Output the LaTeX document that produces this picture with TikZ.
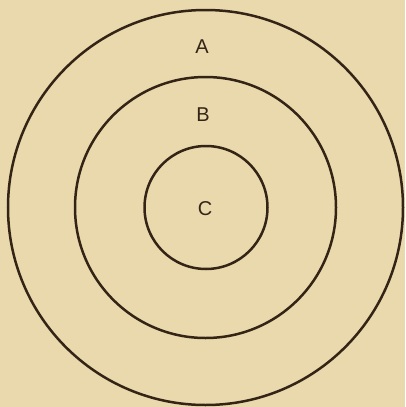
\documentclass[tikz,border=0pt]{standalone}
\usepackage{fontspec}
\setmainfont{Liberation Sans}
\definecolor{bg}{RGB}{234,217,172}
\definecolor{ink}{RGB}{52,36,22}
\begin{document}
\begin{tikzpicture}[x=1pt,y=-1pt,
  ring/.style={draw=ink,line width=2.5pt,circle,inner sep=0pt},
  lbl/.style={text=ink,font=\fontsize{20}{20}\selectfont,inner sep=0pt}]
\fill[bg] (0,0) rectangle (405,407);
\useasboundingbox (0,0) rectangle (405,407);
\node[ring,minimum size=395pt] (outer) at (205.5,207.5) {};
\node[ring,minimum size=261pt] (middle) at (205.5,207.5) {};
\node[ring,minimum size=123pt] (inner) at (206,207.5) {};
\node[lbl] (A) at (202,47) {A};
\node[lbl] (B) at (203,115) {B};
\node[lbl] (C) at (205,209) {C};
\end{tikzpicture}
\end{document}
